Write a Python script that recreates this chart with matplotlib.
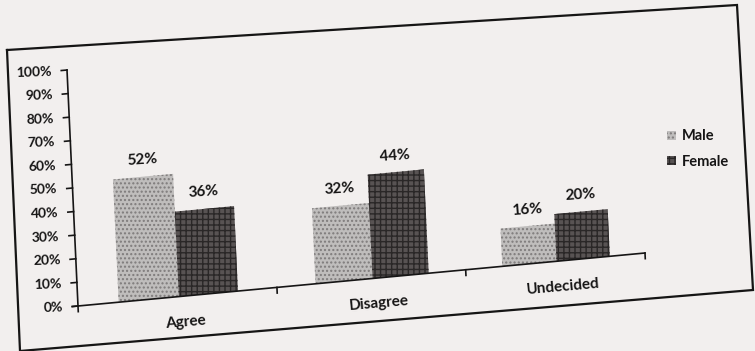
import numpy as np
import matplotlib
matplotlib.use('Agg')
import matplotlib.pyplot as plt
from matplotlib.transforms import Affine2D

plt.rcParams['font.family'] = ['Lato', 'DejaVu Sans']
plt.rcParams['font.weight'] = 'bold'

categories = ['Agree', 'Disagree', 'Undecided']
male = [52, 32, 16]
female = [36, 44, 20]
series_names = ['Male', 'Female']
yticks = list(range(0, 101, 10))

INK = '#161515'
W, H = 755, 351

fig = plt.figure(figsize=(W / 100, H / 100), dpi=100)
fig.patch.set_facecolor('#f2efee')
ax = fig.add_axes([0, 0, 1, 1])
ax.set_axis_off()

# the printed page is photographed at an angle: categories squeeze to the right
squeeze = 0.027
ax.set_xscale('function', functions=(lambda u: u / (1 + squeeze * u),
                                      lambda w: w / (1 - squeeze * w)))
ax.set_xlim(0, len(categories))
ax.set_ylim(0, 100)

# plot-area unit box -> pixels (tilted and slightly sheared)
page = Affine2D(np.array([[567.0, -11.0, 78.0],
                          [53.0, 236.0, 45.0],
                          [0.0, 0.0, 1.0]]))
chart = ax.transScale + ax.transLimits + page
# image pixel coords (y down) -> display
pix = Affine2D().scale(1, -1).translate(0, H)

# outer chart border
ax.plot([7, 737, 753, 20, 7], [50, 5, 290, 351, 50], color=INK, lw=1.6,
        transform=pix, solid_joinstyle='miter')

x = np.arange(len(categories)) + 0.5
bw = 0.3
ax.bar(x - bw / 2, male, bw, transform=chart, color='#bfbdbc', hatch='....',
       edgecolor='#7e7b7b', linewidth=0, label=series_names[0])
ax.bar(x + bw / 2, female, bw, transform=chart, color='#585353', hatch='+++',
       edgecolor='#2a2727', linewidth=0, label=series_names[1])

# value labels above bars
for xi, m, f in zip(x, male, female):
    ax.text(xi - bw / 2, m + 4, f'{m}%', transform=chart, ha='center',
            va='bottom', fontsize=11, color=INK, rotation=4,
            rotation_mode='anchor')
    ax.text(xi + bw / 2, f + 4, f'{f}%', transform=chart, ha='center',
            va='bottom', fontsize=11, color=INK, rotation=4,
            rotation_mode='anchor')

# y axis with ticks and labels
ax.plot([0, 0], [0, 100], color=INK, lw=1.2, transform=chart)
for v in yticks:
    ax.plot([-0.028, 0], [v, v], color=INK, lw=1.2, transform=chart)
    ax.text(-0.075, v, f'{v}%', transform=chart, ha='right', va='center',
            fontsize=10, color=INK, rotation=2, rotation_mode='anchor')

# x axis with ticks between categories
ax.plot([-0.028, len(categories)], [0, 0], color=INK, lw=1.2, transform=chart)
for u in range(len(categories) + 1):
    ax.plot([u, u], [0, -2.4], color=INK, lw=1.2, transform=chart)
for xi, cat in zip(x, categories):
    ax.text(xi + 0.03, -11, cat, transform=chart, ha='center', va='center',
            fontsize=11, color=INK, rotation=5, rotation_mode='anchor')

ax.legend(loc='upper left', bbox_to_anchor=(660 / W, 1 - 122 / H),
          frameon=False, fontsize=10.5, handlelength=0.6, handleheight=0.6,
          handletextpad=0.4, labelspacing=0.8, borderpad=0,
          labelcolor=INK)

fig.savefig('out.png', dpi=100, facecolor=fig.get_facecolor())
